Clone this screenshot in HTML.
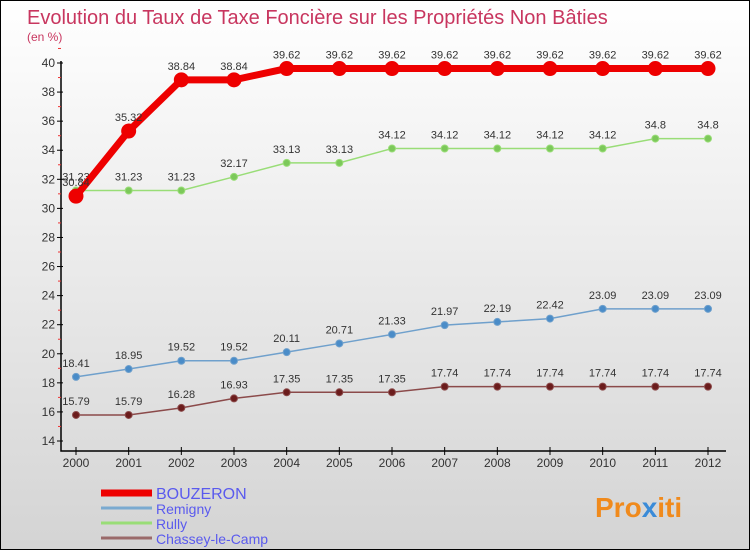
<!DOCTYPE html>
<html><head><meta charset="utf-8"><style>
body{margin:0}
#c{position:relative;width:750px;height:550px;box-sizing:border-box;border:1px solid #000;background:linear-gradient(#fff,#d4d4d4);font-family:"Liberation Sans",sans-serif;overflow:hidden}
svg{position:absolute;left:0;top:0}
</style></head><body>
<div id="c">
<svg id="s" width="750" height="550">
<text x="26" y="23" font-size="20" fill="#c8365f">Evolution du Taux de Taxe Foncière sur les Propriétés Non Bâties</text>
<text x="26" y="40" font-size="12" fill="#c8365f">(en %)</text>
<text x="594" y="516" font-size="28" font-weight="bold" fill="#f08a1c">Pro<tspan fill="#3a8bd8">x</tspan>iti</text>
</svg>
</div>
<script>
const years=[2000,2001,2002,2003,2004,2005,2006,2007,2008,2009,2010,2011,2012];
const bouzeron=[30.84,35.32,38.84,38.84,39.62,39.62,39.62,39.62,39.62,39.62,39.62,39.62,39.62];
const remigny=[18.41,18.95,19.52,19.52,20.11,20.71,21.33,21.97,22.19,22.42,23.09,23.09,23.09];
const rully=[31.23,31.23,31.23,32.17,33.13,33.13,34.12,34.12,34.12,34.12,34.12,34.8,34.8];
const chassey=[15.79,15.79,16.28,16.93,17.35,17.35,17.35,17.74,17.74,17.74,17.74,17.74,17.74];
const yTicks=[14,16,18,20,22,24,26,28,30,32,34,36,38,40];
const NS="http://www.w3.org/2000/svg";
const s=document.getElementById('s');
const X=i=>75+i*(632/12);
const Y=v=>440-(v-14)*(378/26);
function el(t,a,p){const e=document.createElementNS(NS,t);for(const k in a)e.setAttribute(k,a[k]);(p||s).appendChild(e);return e;}
let ax=el('path',{d:`M60 ${Y(40)-2}V450H725`,stroke:'#000',fill:'none','stroke-width':1.5});


yTicks.forEach(v=>{
 el('line',{x1:56,x2:62,y1:Y(v),y2:Y(v),stroke:'#000'});
 el('line',{x1:57,x2:60,y1:Y(v+1),y2:Y(v+1),stroke:'#e33'});
 const t=el('text',{x:54,y:Y(v)+4,'font-size':12,fill:'#333','text-anchor':'end'});
 t.textContent=v;
 
 
});
years.forEach((y,i)=>{
 el('line',{x1:X(i),x2:X(i),y1:446,y2:454,stroke:'#000'});
 const t=el('text',{x:X(i),y:466,'font-size':12,fill:'#333','text-anchor':'middle'});
 t.textContent=y;
 
 
});
function series(d,color,w,r,name,fill){
 const g=el('g',{});
 
 
 el('polyline',{points:d.map((v,i)=>X(i)+','+Y(v)).join(' '),fill:'none',stroke:color,'stroke-width':w},g);
 d.forEach((v,i)=>{
  const c=el('circle',{cx:X(i),cy:Y(v),r:r,fill:fill,stroke:color},g);
  
  
  const t=el('text',{x:X(i),y:Y(v)-10,'font-size':11,fill:'#333','text-anchor':'middle'},g);
  t.textContent=v;
 });
}
series(chassey,'#8b4a4a',1.5,3.5,'chassey','#6b1c1c');
series(remigny,'#6fa0cc',1.5,3.5,'remigny','#4a8cc8');
series(rully,'#99dd77',1.5,3.5,'rully','#7cc85a');
series(bouzeron,'#ee0000',7,7,'bouzeron','#ee0000');
const leg=[['BOUZERON','#ee0000',7,16],['Remigny','#7aaad0',3,14],['Rully','#99dd77',3,14],['Chassey-le-Camp','#9a6a6a',3,14]];
leg.forEach((l,i)=>{
 const y=492+i*15;
 el('line',{x1:100,x2:151,y1:y,y2:y,stroke:l[1],'stroke-width':l[2]});
 const t=el('text',{x:155,y:y+6,'font-size':l[3],fill:'#5a5aee'});
 t.textContent=l[0];
 
 
});
</script>
</body></html>
